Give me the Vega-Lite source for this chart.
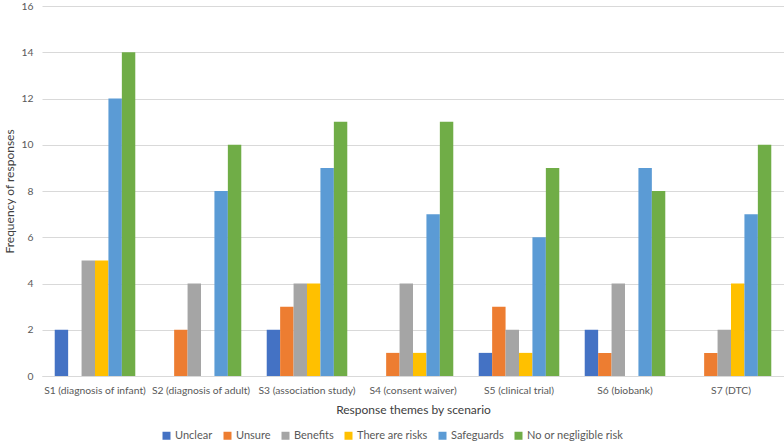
{
  "$schema": "https://vega.github.io/schema/vega-lite/v6.json",
  "width": 742,
  "height": 370,
  "autosize": "none",
  "padding": {"left": 42, "top": 6, "right": 0, "bottom": 68},
  "background": "white",
  "config": {
    "font": "Lato",
    "view": {"stroke": null},
    "axis": {"labelColor": "#595959", "titleColor": "#404040", "labelFontSize": 10.3, "titleFontSize": 12, "titleFontWeight": "normal", "labelFont": "Lato", "titleFont": "Lato"}
  },
  "data": {
    "values": [
      {"s": "S1 (diagnosis of infant)", "t": "Unclear", "v": 2},
      {"s": "S1 (diagnosis of infant)", "t": "Unsure", "v": 0},
      {"s": "S1 (diagnosis of infant)", "t": "Benefits", "v": 5},
      {"s": "S1 (diagnosis of infant)", "t": "There are risks", "v": 5},
      {"s": "S1 (diagnosis of infant)", "t": "Safeguards", "v": 12},
      {"s": "S1 (diagnosis of infant)", "t": "No or negligible risk", "v": 14},
      {"s": "S2 (diagnosis of adult)", "t": "Unclear", "v": 0},
      {"s": "S2 (diagnosis of adult)", "t": "Unsure", "v": 2},
      {"s": "S2 (diagnosis of adult)", "t": "Benefits", "v": 4},
      {"s": "S2 (diagnosis of adult)", "t": "There are risks", "v": 0},
      {"s": "S2 (diagnosis of adult)", "t": "Safeguards", "v": 8},
      {"s": "S2 (diagnosis of adult)", "t": "No or negligible risk", "v": 10},
      {"s": "S3 (association study)", "t": "Unclear", "v": 2},
      {"s": "S3 (association study)", "t": "Unsure", "v": 3},
      {"s": "S3 (association study)", "t": "Benefits", "v": 4},
      {"s": "S3 (association study)", "t": "There are risks", "v": 4},
      {"s": "S3 (association study)", "t": "Safeguards", "v": 9},
      {"s": "S3 (association study)", "t": "No or negligible risk", "v": 11},
      {"s": "S4 (consent waiver)", "t": "Unclear", "v": 0},
      {"s": "S4 (consent waiver)", "t": "Unsure", "v": 1},
      {"s": "S4 (consent waiver)", "t": "Benefits", "v": 4},
      {"s": "S4 (consent waiver)", "t": "There are risks", "v": 1},
      {"s": "S4 (consent waiver)", "t": "Safeguards", "v": 7},
      {"s": "S4 (consent waiver)", "t": "No or negligible risk", "v": 11},
      {"s": "S5 (clinical trial)", "t": "Unclear", "v": 1},
      {"s": "S5 (clinical trial)", "t": "Unsure", "v": 3},
      {"s": "S5 (clinical trial)", "t": "Benefits", "v": 2},
      {"s": "S5 (clinical trial)", "t": "There are risks", "v": 1},
      {"s": "S5 (clinical trial)", "t": "Safeguards", "v": 6},
      {"s": "S5 (clinical trial)", "t": "No or negligible risk", "v": 9},
      {"s": "S6 (biobank)", "t": "Unclear", "v": 2},
      {"s": "S6 (biobank)", "t": "Unsure", "v": 1},
      {"s": "S6 (biobank)", "t": "Benefits", "v": 4},
      {"s": "S6 (biobank)", "t": "There are risks", "v": 0},
      {"s": "S6 (biobank)", "t": "Safeguards", "v": 9},
      {"s": "S6 (biobank)", "t": "No or negligible risk", "v": 8},
      {"s": "S7 (DTC)", "t": "Unclear", "v": 0},
      {"s": "S7 (DTC)", "t": "Unsure", "v": 1},
      {"s": "S7 (DTC)", "t": "Benefits", "v": 2},
      {"s": "S7 (DTC)", "t": "There are risks", "v": 4},
      {"s": "S7 (DTC)", "t": "Safeguards", "v": 7},
      {"s": "S7 (DTC)", "t": "No or negligible risk", "v": 10}
    ]
  },
  "mark": {"type": "bar"},
  "encoding": {
    "x": {
      "field": "s", "type": "nominal", "sort": null,
      "scale": {"paddingInner": 0.24, "paddingOuter": 0.12},
      "axis": {"title": "Response themes by scenario", "labelAngle": 0, "ticks": false, "domainColor": "#d9d9d9", "labelPadding": 9, "titlePadding": 9, "grid": false, "labelOverlap": false, "labelLimit": 0}
    },
    "xOffset": {"field": "t", "type": "nominal", "sort": null, "scale": {"paddingInner": 0, "paddingOuter": 0}},
    "y": {
      "field": "v", "type": "quantitative",
      "scale": {"domain": [0, 16]},
      "axis": {"title": "Frequency of responses", "values": [0, 2, 4, 6, 8, 10, 12, 14, 16], "labelOverlap": false, "ticks": false, "domain": false, "gridColor": "#d9d9d9", "labelPadding": 9, "titleX": -33, "titleY": 185, "titleBaseline": "middle", "titleAlign": "center"}
    },
    "color": {
      "field": "t", "type": "nominal", "sort": null,
      "scale": {"domain": ["Unclear", "Unsure", "Benefits", "There are risks", "Safeguards", "No or negligible risk"], "range": ["#4472C4", "#ED7D31", "#A5A5A5", "#FFC000", "#5B9BD5", "#70AD47"]},
      "legend": {"title": null, "orient": "none", "direction": "horizontal", "legendX": 119, "legendY": 424, "symbolType": "square", "symbolSize": 64, "symbolStrokeWidth": 0, "labelFontSize": 11, "labelFont": "Lato", "labelColor": "#595959", "columnPadding": 9, "labelOffset": 3}
    }
  }
}
